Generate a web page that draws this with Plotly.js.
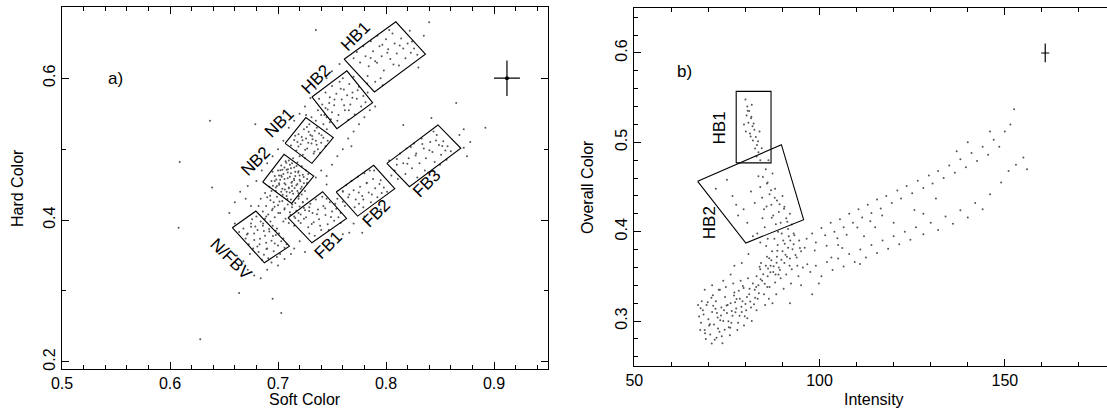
<!DOCTYPE html>
<html><head><meta charset="utf-8">
<script src="https://cdn.plot.ly/plotly-3.0.1.min.js"></script>
<style>html,body{margin:0;padding:0;overflow:hidden;background:#fff}#chart{width:1120px;height:408px}</style>
</head><body><div id="chart"></div>
<script>
// ---------- Panel a: Soft Color vs Hard Color (points, by region) ----------
const nfbvSoft = [0.668,0.672,0.675,0.678,0.681,0.683,0.686,0.688,0.690,0.692,0.694,0.696,0.698,0.700,0.702,0.676,0.680,0.684,0.687,0.691,0.695,0.699,0.703,0.706,0.670,0.673,0.677,0.682,0.685,0.689,0.693,0.697,0.701,0.705,0.708,0.664,0.679,0.688,0.694,0.699,0.672,0.678,0.684,0.690,0.662,0.668,0.674,0.700,0.706,0.712];
const nfbvHard = [0.388,0.381,0.395,0.372,0.386,0.366,0.392,0.378,0.360,0.384,0.371,0.356,0.379,0.364,0.352,0.401,0.405,0.398,0.351,0.346,0.392,0.388,0.370,0.361,0.374,0.366,0.360,0.355,0.344,0.368,0.398,0.367,0.381,0.374,0.366,0.383,0.391,0.402,0.340,0.348,0.330,0.322,0.318,0.330,0.350,0.342,0.352,0.336,0.345,0.352];
const bridgeSoft = [0.686,0.689,0.691,0.693,0.695,0.697,0.699,0.700,0.702,0.703,0.704,0.706,0.707,0.708,0.709,0.710,0.711,0.712,0.713,0.714,0.715,0.716,0.717,0.718,0.719,0.720,0.721,0.722,0.723,0.725,0.690,0.694,0.698,0.701,0.696,0.705,0.710,0.715,0.719,0.724,0.682,0.684,0.688,0.692,0.727,0.729,0.713,0.707,0.697,0.703];
const bridgeHard = [0.412,0.420,0.408,0.428,0.416,0.404,0.433,0.421,0.410,0.440,0.427,0.415,0.402,0.434,0.422,0.445,0.411,0.429,0.418,0.437,0.405,0.424,0.413,0.441,0.430,0.419,0.408,0.436,0.425,0.414,0.432,0.441,0.446,0.452,0.425,0.398,0.396,0.392,0.399,0.402,0.420,0.430,0.438,0.447,0.430,0.418,0.448,0.450,0.455,0.463];
const nb2Soft = [0.694,0.697,0.699,0.700,0.702,0.703,0.704,0.705,0.706,0.707,0.708,0.709,0.710,0.711,0.712,0.713,0.714,0.715,0.716,0.717,0.718,0.719,0.720,0.721,0.722,0.723,0.724,0.726,0.727,0.728,0.701,0.704,0.706,0.708,0.709,0.711,0.712,0.713,0.715,0.716,0.718,0.719,0.720,0.722,0.706,0.710,0.713,0.698,0.695,0.725];
const nb2Hard = [0.455,0.462,0.448,0.470,0.457,0.477,0.444,0.465,0.452,0.483,0.471,0.459,0.446,0.478,0.466,0.454,0.487,0.474,0.462,0.449,0.481,0.469,0.457,0.444,0.476,0.464,0.452,0.470,0.458,0.465,0.463,0.471,0.458,0.440,0.467,0.461,0.473,0.441,0.456,0.468,0.451,0.438,0.463,0.447,0.474,0.484,0.480,0.441,0.468,0.441];
const nb1Soft = [0.712,0.715,0.717,0.719,0.721,0.723,0.724,0.726,0.727,0.729,0.730,0.731,0.733,0.734,0.735,0.737,0.738,0.740,0.742,0.744,0.718,0.722,0.728,0.732,0.736,0.725,0.720,0.739,0.746,0.716,0.735,0.740,0.745,0.742,0.748,0.750,0.731,0.726,0.737,0.744];
const nb1Hard = [0.505,0.513,0.498,0.521,0.507,0.492,0.528,0.515,0.501,0.535,0.520,0.508,0.494,0.526,0.512,0.500,0.522,0.509,0.516,0.504,0.510,0.517,0.509,0.514,0.530,0.487,0.490,0.495,0.512,0.519,0.540,0.548,0.545,0.535,0.538,0.552,0.545,0.548,0.555,0.558];
const hb2Soft = [0.738,0.741,0.744,0.746,0.748,0.750,0.752,0.754,0.756,0.757,0.759,0.761,0.762,0.764,0.766,0.767,0.769,0.771,0.773,0.775,0.777,0.779,0.781,0.743,0.749,0.755,0.760,0.765,0.770,0.783];
const hb2Hard = [0.571,0.563,0.580,0.556,0.573,0.589,0.562,0.578,0.548,0.595,0.570,0.584,0.555,0.576,0.592,0.563,0.580,0.549,0.571,0.588,0.560,0.575,0.566,0.548,0.542,0.540,0.600,0.541,0.602,0.580];
const hb1Soft = [0.770,0.773,0.776,0.779,0.781,0.784,0.786,0.788,0.790,0.792,0.794,0.796,0.798,0.800,0.802,0.804,0.806,0.808,0.810,0.812,0.814,0.816,0.818,0.820,0.823,0.826,0.829,0.783,0.795,0.803,0.750,0.757,0.790,0.797,0.835,0.830];
const hb1Hard = [0.628,0.637,0.622,0.645,0.631,0.617,0.652,0.638,0.624,0.660,0.645,0.631,0.611,0.655,0.641,0.627,0.663,0.649,0.635,0.618,0.656,0.642,0.628,0.649,0.636,0.642,0.633,0.603,0.600,0.668,0.610,0.620,0.595,0.590,0.660,0.615];
const fb1Soft = [0.716,0.719,0.721,0.724,0.726,0.728,0.730,0.732,0.733,0.735,0.737,0.738,0.740,0.742,0.744,0.746,0.748,0.750,0.752,0.754,0.756,0.758,0.729,0.734,0.741,0.745,0.723,0.739,0.747,0.753,0.755,0.760,0.762,0.765,0.760,0.758];
const fb1Hard = [0.403,0.410,0.396,0.417,0.404,0.390,0.423,0.410,0.397,0.429,0.415,0.401,0.386,0.420,0.407,0.394,0.425,0.412,0.399,0.416,0.404,0.410,0.381,0.378,0.433,0.430,0.425,0.392,0.386,0.423,0.430,0.426,0.420,0.432,0.440,0.396];
const fb2Soft = [0.760,0.763,0.766,0.768,0.770,0.772,0.774,0.776,0.778,0.780,0.782,0.784,0.786,0.788,0.790,0.792,0.794,0.796,0.798,0.801,0.771,0.779,0.785,0.789,0.775,0.805,0.808,0.811,0.810,0.803];
const fb2Hard = [0.441,0.449,0.436,0.455,0.442,0.429,0.461,0.447,0.434,0.466,0.452,0.439,0.425,0.458,0.445,0.432,0.451,0.438,0.446,0.440,0.418,0.418,0.470,0.470,0.423,0.463,0.470,0.458,0.478,0.484];
const fb3Soft = [0.810,0.813,0.816,0.819,0.821,0.824,0.826,0.828,0.831,0.833,0.835,0.837,0.839,0.841,0.843,0.845,0.847,0.849,0.851,0.853,0.855,0.857,0.860,0.818,0.829,0.844,0.856,0.823,0.836,0.850,0.872,0.878,0.868,0.875];
const fb3Hard = [0.486,0.494,0.480,0.501,0.487,0.473,0.508,0.494,0.480,0.515,0.501,0.487,0.467,0.510,0.496,0.482,0.520,0.506,0.492,0.511,0.498,0.504,0.497,0.465,0.460,0.525,0.485,0.503,0.470,0.478,0.502,0.510,0.520,0.490];
const haloSoft = [0.655,0.660,0.665,0.670,0.675,0.672,0.680,0.685,0.690,0.695,0.700,0.705,0.710,0.715,0.720,0.725,0.730,0.735,0.745,0.660,0.735,0.740,0.745,0.750,0.745,0.755,0.760,0.765,0.770,0.775,0.780,0.785,0.790,0.720,0.715,0.725,0.760,0.770,0.780,0.795];
const haloHard = [0.410,0.425,0.440,0.430,0.420,0.448,0.455,0.470,0.480,0.490,0.500,0.512,0.530,0.540,0.550,0.560,0.572,0.585,0.600,0.395,0.460,0.470,0.462,0.478,0.450,0.490,0.500,0.515,0.525,0.535,0.545,0.555,0.560,0.370,0.360,0.355,0.380,0.395,0.405,0.415];
const extraSoft = [0.7035,0.7092,0.7148,0.7011,0.7187,0.7063,0.7124,0.6984,0.7206,0.7171,0.7077,0.7109,0.7238,0.6953,0.7022,0.7154,0.7268,0.7043,0.6927,0.6968,0.7014,0.7087,0.7132,0.7193,0.6891,0.6945,0.7003,0.7061,0.7116,0.6862,0.6917,0.6779,0.6834,0.6751,0.6953,0.6809,0.6893,0.6712,0.6978,0.6869,0.7251,0.7316,0.7189,0.7358,0.7284,0.7403,0.7227,0.7452,0.7338,0.7268,0.7523,0.7612,0.7581,0.7689,0.7474,0.7737,0.7656,0.7826,0.7917,0.8013,0.8127,0.7858,0.8241,0.8069,0.7966,0.7288,0.7361,0.7437,0.7312,0.7491,0.7823,0.7748,0.7951,0.7869,0.8274,0.8402,0.8336,0.8463,0.8198,0.8521];
const extraHard = [0.4612,0.4718,0.4583,0.4497,0.4669,0.4431,0.4525,0.4572,0.4548,0.4762,0.4808,0.4389,0.4606,0.4483,0.4703,0.4451,0.4521,0.4356,0.4342,0.4189,0.4263,0.4297,0.4218,0.4331,0.4051,0.4137,0.4098,0.4168,0.4072,0.3953,0.3874,0.3812,0.3737,0.3906,0.3774,0.3628,0.3591,0.3795,0.3849,0.3846,0.4993,0.5187,0.5038,0.5061,0.5246,0.5195,0.5124,0.5281,0.4968,0.5311,0.5701,0.5618,0.5853,0.5724,0.5652,0.5832,0.5549,0.5926,0.6217,0.6358,0.6462,0.6284,0.6517,0.6193,0.6472,0.4128,0.4081,0.4167,0.3946,0.4042,0.4526,0.4389,0.4563,0.4361,0.4911,0.4986,0.5071,0.5122,0.4794,0.5043];
const outSoft = [0.609,0.608,0.637,0.639,0.628,0.664,0.695,0.703,0.679,0.735,0.840,0.822,0.865,0.892,0.842,0.816,0.872,0.768,0.778,0.766,0.779];
const outHard = [0.482,0.389,0.540,0.446,0.232,0.297,0.289,0.269,0.535,0.668,0.679,0.667,0.565,0.530,0.544,0.534,0.528,0.504,0.382,0.382,0.429];

// Panel a boxes (corner coordinates)
const hb1BoxSoft = [0.7612,0.8091,0.8365,0.7893], hb1BoxHard = [0.6268,0.6795,0.6339,0.5807];
const hb2BoxSoft = [0.7314,0.7638,0.7876,0.7545], hb2BoxHard = [0.5736,0.6104,0.5656,0.5289];
const nb1BoxSoft = [0.7066,0.7258,0.7512,0.7314], nb1BoxHard = [0.5082,0.5445,0.5162,0.4800];
const nb2BoxSoft = [0.6858,0.7056,0.7331,0.7126], nb2BoxHard = [0.4536,0.4927,0.4621,0.4235];
const nfbvBoxSoft = [0.6577,0.6795,0.7106,0.6874], nfbvBoxHard = [0.3892,0.4127,0.3633,0.3398];
const fb1BoxSoft = [0.7093,0.7413,0.7635,0.7314], fb1BoxHard = [0.4033,0.4400,0.4024,0.3680];
const fb2BoxSoft = [0.7539,0.7886,0.8081,0.7737], fb2BoxHard = [0.4395,0.4772,0.4442,0.4056];
const fb3BoxSoft = [0.8008,0.8481,0.8693,0.8217], fb3BoxHard = [0.4800,0.5341,0.5012,0.4471];
const errSoft = [0.912], errHard = [0.6], errSoftSize = 0.012, errHardSize = 0.025;

// ---------- Panel b: Intensity vs Overall Color ----------
const blobInt = [67.5,68.0,68.5,69.0,69.5,70.0,70.5,71.0,71.5,72.0,72.5,73.0,73.5,74.0,74.5,75.0,75.5,76.0,76.5,77.0,77.5,78.0,78.5,79.0,79.5,80.0,80.5,81.0,81.5,82.0,68.2,69.3,70.8,71.7,72.8,73.6,74.7,75.8,76.7,77.8,78.7,79.6,80.7,81.7,82.6,83.0,67.2,67.8,70.2,71.3,72.3,73.2,74.2,75.2,76.2,77.2,78.2,79.2,80.2,73.8];
const blobCol = [0.305,0.298,0.312,0.290,0.318,0.302,0.285,0.310,0.296,0.322,0.304,0.288,0.315,0.300,0.327,0.309,0.293,0.320,0.306,0.332,0.314,0.298,0.325,0.310,0.337,0.319,0.303,0.330,0.315,0.342,0.322,0.280,0.326,0.279,0.335,0.283,0.338,0.284,0.342,0.290,0.345,0.295,0.348,0.300,0.326,0.312,0.318,0.290,0.295,0.317,0.309,0.301,0.312,0.318,0.298,0.321,0.334,0.322,0.312,0.275];
const rampInt = [82.5,83.0,83.5,84.0,84.5,85.0,85.5,86.0,86.5,87.0,87.5,88.0,88.5,89.0,89.5,90.0,90.5,91.0,91.5,92.0,92.5,93.0,93.5,94.0,94.5,95.0,84.2,85.8,87.2,88.7,90.2,91.7,86.3,88.3,90.3,92.3,94.3,83.3,85.3,87.3,89.3,86.8,88.1,91.2,93.2,95.5,96.0,89.8,87.8,85.6];
const rampCol = [0.335,0.350,0.340,0.358,0.345,0.330,0.362,0.350,0.338,0.368,0.355,0.343,0.372,0.360,0.348,0.378,0.365,0.352,0.382,0.370,0.358,0.386,0.374,0.362,0.390,0.378,0.365,0.372,0.378,0.385,0.390,0.395,0.325,0.330,0.336,0.342,0.350,0.325,0.318,0.320,0.357,0.362,0.352,0.372,0.396,0.360,0.382,0.398,0.392,0.384];
const hb1Int = [80.0,80.5,81.0,80.3,81.5,80.8,81.9,82.4,81.2,82.8,82.0,83.1,82.6,83.5,83.0,84.0,79.6,80.1,81.7,83.8];
const hb1Col = [0.548,0.540,0.535,0.530,0.527,0.522,0.518,0.514,0.510,0.506,0.502,0.497,0.493,0.489,0.484,0.480,0.520,0.512,0.542,0.512];
const hb2Int = [72.0,75.0,76.5,77.5,78.0,79.5,80.5,81.5,82.5,83.5,84.0,84.5,85.0,85.5,86.0,86.5,87.0,87.5,88.0,88.5,89.0,89.5,90.0,90.5,91.0,91.5,92.0,92.5,93.0,86.2,87.3,85.2,83.2,88.8,84.6,82.0,84.0,86.0,79.0,76.0,74.0,71.0,69.0,77.0,80.8];
const hb2Col = [0.448,0.458,0.440,0.430,0.418,0.425,0.410,0.445,0.432,0.462,0.450,0.438,0.425,0.470,0.455,0.442,0.430,0.418,0.448,0.435,0.422,0.410,0.440,0.428,0.415,0.403,0.420,0.408,0.398,0.480,0.465,0.405,0.398,0.400,0.415,0.395,0.388,0.392,0.365,0.352,0.345,0.340,0.335,0.362,0.375];
const upInt = [96.5,98.0,99.0,100.5,101.5,103.0,104.0,105.5,106.5,108.0,109.0,110.5,111.5,113.0,114.0,115.5,116.5,118.0,119.5,121.0,122.0,123.5,125.0,126.5,128.0,129.5,130.5,132.0,133.5,135.0,136.5,138.0,139.5,141.0,142.5,144.0,145.5,147.0,148.5,150.0,151.5,152.5,146.0,140.0,137.0];
const upCol = [0.392,0.398,0.388,0.404,0.396,0.410,0.400,0.414,0.405,0.420,0.410,0.425,0.416,0.430,0.421,0.436,0.426,0.440,0.432,0.446,0.437,0.451,0.443,0.457,0.449,0.463,0.454,0.468,0.460,0.474,0.466,0.481,0.472,0.488,0.479,0.495,0.486,0.503,0.495,0.512,0.520,0.537,0.512,0.500,0.490];
const lowInt = [97.5,99.0,100.5,102.0,103.5,105.0,106.5,108.0,109.5,111.0,112.5,114.0,115.5,117.0,118.5,120.0,121.5,123.0,124.5,126.0,128.0,130.0,132.0,134.0,136.0,138.0,140.0,142.0,144.0,146.0,149.0,151.0,153.0,155.0,156.0,105.0,112.0,120.0,128.0,115.0,95.0,98.0,92.0];
const lowCol = [0.355,0.362,0.350,0.366,0.357,0.370,0.361,0.375,0.366,0.380,0.371,0.385,0.376,0.390,0.381,0.395,0.386,0.400,0.391,0.405,0.397,0.410,0.402,0.417,0.409,0.424,0.416,0.432,0.425,0.442,0.455,0.468,0.475,0.483,0.470,0.385,0.395,0.410,0.420,0.405,0.340,0.330,0.320];
const extraInt = [68.7,70.4,71.9,73.4,69.8,72.6,74.9,76.3,75.4,77.6,78.9,80.4,79.8,81.3,82.9,84.1,83.6,85.2,86.7,85.9,87.6,88.9,89.7,88.4,90.8,91.9,92.7,93.8,86.1,84.8,69.1,70.9,72.2,74.4,75.9,67.9,71.2,73.1,76.9,78.4,81.1,82.3,79.3,77.3,83.8,86.4,88.6,90.6,92.1,94.7,81.6,82.2,81.4,80.6,83.4,84.4,84.7,85.8,86.9,87.9,89.2,90.4,87.1,85.7,88.2,91.3,98.7,101.9,104.8,107.3,110.2,113.7,116.9,103.2,106.1,110.9,99.8,96.7,125.6,131.4];
const extraCol = [0.3074,0.2963,0.3137,0.3062,0.3211,0.2917,0.3174,0.3113,0.2998,0.3246,0.3159,0.3268,0.3054,0.3219,0.3382,0.3467,0.3312,0.3418,0.3545,0.3381,0.3612,0.3521,0.3687,0.3653,0.3743,0.3618,0.3802,0.3711,0.3589,0.3524,0.2862,0.2748,0.2812,0.2901,0.2926,0.3143,0.3288,0.3349,0.3287,0.3058,0.3361,0.3189,0.3391,0.3097,0.3608,0.3703,0.3786,0.3864,0.3902,0.3817,0.5287,0.5211,0.5064,0.5352,0.5011,0.4935,0.4612,0.4538,0.4464,0.4379,0.4306,0.4257,0.4155,0.4283,0.4082,0.4112,0.3788,0.3843,0.3926,0.3966,0.4047,0.4116,0.4182,0.3712,0.3817,0.3639,0.3421,0.3635,0.4242,0.4371];

const hb1RectInt = [77.5,77.5,86.9,86.9], hb1RectCol = [0.477,0.557,0.557,0.477];
const hb2QuadInt = [67.1,89.7,95.7,80.1], hb2QuadCol = [0.4563,0.4974,0.4134,0.3873];
const errInt = [160.9], errCol = [0.6], errIntSize = 1.1, errColSize = 0.0105;

// ---------- build ----------
const FONT = "Liberation Sans, Arial, Helvetica, sans-serif";
const dotStyle = {size: 2, color: "#555"};
const traces = [];
function dots(x, y, xa, ya) { traces.push({type:"scatter", mode:"markers", x:x, y:y, xaxis:xa, yaxis:ya, marker:dotStyle, hoverinfo:"skip"}); }
function box(x, y, xa, ya) { traces.push({type:"scatter", mode:"lines", x:x.concat([x[0]]), y:y.concat([y[0]]), xaxis:xa, yaxis:ya, line:{color:"#000", width:1.1}, hoverinfo:"skip"}); }

[[nfbvSoft,nfbvHard],[bridgeSoft,bridgeHard],[nb2Soft,nb2Hard],[nb1Soft,nb1Hard],[hb2Soft,hb2Hard],[hb1Soft,hb1Hard],[fb1Soft,fb1Hard],[fb2Soft,fb2Hard],[fb3Soft,fb3Hard],[haloSoft,haloHard],[extraSoft,extraHard],[outSoft,outHard]].forEach(p => dots(p[0], p[1], "x", "y"));
[[hb1BoxSoft,hb1BoxHard],[hb2BoxSoft,hb2BoxHard],[nb1BoxSoft,nb1BoxHard],[nb2BoxSoft,nb2BoxHard],[nfbvBoxSoft,nfbvBoxHard],[fb1BoxSoft,fb1BoxHard],[fb2BoxSoft,fb2BoxHard],[fb3BoxSoft,fb3BoxHard]].forEach(p => box(p[0], p[1], "x", "y"));
traces.push({type:"scatter", mode:"markers", x:errSoft, y:errHard, xaxis:"x", yaxis:"y", marker:{size:4, color:"#000"},
  error_x:{type:"constant", value:errSoftSize, width:0, thickness:1.2, color:"#000"},
  error_y:{type:"constant", value:errHardSize, width:0, thickness:1.2, color:"#000"}, hoverinfo:"skip"});

[[blobInt,blobCol],[rampInt,rampCol],[hb1Int,hb1Col],[hb2Int,hb2Col],[upInt,upCol],[lowInt,lowCol],[extraInt,extraCol]].forEach(p => dots(p[0], p[1], "x2", "y2"));
box(hb1RectInt, hb1RectCol, "x2", "y2");
box(hb2QuadInt, hb2QuadCol, "x2", "y2");
traces.push({type:"scatter", mode:"markers", x:errInt, y:errCol, xaxis:"x2", yaxis:"y2", marker:{size:1, color:"#000"},
  error_x:{type:"constant", value:errIntSize, width:0, thickness:1.2, color:"#000"},
  error_y:{type:"constant", value:errColSize, width:0, thickness:1.2, color:"#000"}, hoverinfo:"skip"});

const W = 1120, H = 408;
const axisBase = {showgrid:false, zeroline:false, showline:true, linecolor:"#000", linewidth:1, mirror:"allticks",
  ticks:"inside", ticklen:7, tickwidth:1, tickcolor:"#000", tickfont:{family:FONT, size:16, color:"#000"}, automargin:false, fixedrange:true};
function ax(extra) { return Object.assign({}, axisBase, extra); }

const labFont = {family:FONT, size:17, color:"#000"};
const annA = [
  ["HB1",0.7717,0.6588,-45],["HB2",0.7354,0.5976,-45],["NB1",0.7017,0.537,-45],["NB2",0.679,0.483,-45],
  ["N/FBV",0.657,0.345,45],["FB1",0.7463,0.364,-45],["FB2",0.791,0.409,-45],["FB3",0.8375,0.452,-45],["a)",0.5496,0.6,0]
].map(a => ({text:a[0], x:a[1], y:a[2], textangle:a[3], xref:"x", yref:"y", showarrow:false, font:labFont}));
const annB = [["HB1",72.9,0.5157,-90],["HB2",70.2,0.4097,-90],["b)",63.6,0.5795,0]]
  .map(a => ({text:a[0], x:a[1], y:a[2], textangle:a[3], xref:"x2", yref:"y2", showarrow:false, font:labFont}));
const titles = [
  {text:"Soft Color", x:305/W, y:1-399/H, textangle:0},
  {text:"Intensity", x:874/W, y:1-399/H, textangle:0},
  {text:"Hard Color", x:18/W, y:1-188/H, textangle:-90},
  {text:"Overall Color", x:588/W, y:1-187/H, textangle:-90}
].map(t => Object.assign(t, {xref:"paper", yref:"paper", showarrow:false, xanchor:"center", yanchor:"middle", font:{family:FONT, size:16, color:"#000"}}));

const layout = {
  width:W, height:H, margin:{l:0, r:0, t:0, b:0}, showlegend:false,
  paper_bgcolor:"#fff", plot_bgcolor:"#fff", font:{family:FONT, color:"#000"},
  xaxis: ax({domain:[62/W, 548/W], range:[0.5,0.95], tick0:0.5, dtick:0.1, anchor:"y", minor:{dtick:0.02, ticklen:4, ticks:"inside", tickcolor:"#000"}}),
  yaxis: ax({domain:[1-369/H, 1-7.3/H], range:[0.19,0.70], tick0:0, dtick:0.2, tickangle:-90, anchor:"x", minor:{dtick:0.1, ticklen:4, ticks:"inside", tickcolor:"#000"}}),
  xaxis2: ax({domain:[634.3/W, 1116/W], range:[50,180], tick0:50, dtick:50, anchor:"y2", minor:{dtick:10, ticklen:4, ticks:"inside", tickcolor:"#000"}}),
  yaxis2: ax({domain:[1-365.7/H, 1-8.3/H], range:[0.25,0.65], tick0:0, dtick:0.1, tickangle:-90, anchor:"x2", minor:{dtick:0.02, ticklen:4, ticks:"inside", tickcolor:"#000"}}),
  annotations: annA.concat(annB, titles)
};
Plotly.newPlot("chart", traces, layout, {displayModeBar:false, staticPlot:true});
</script></body></html>
